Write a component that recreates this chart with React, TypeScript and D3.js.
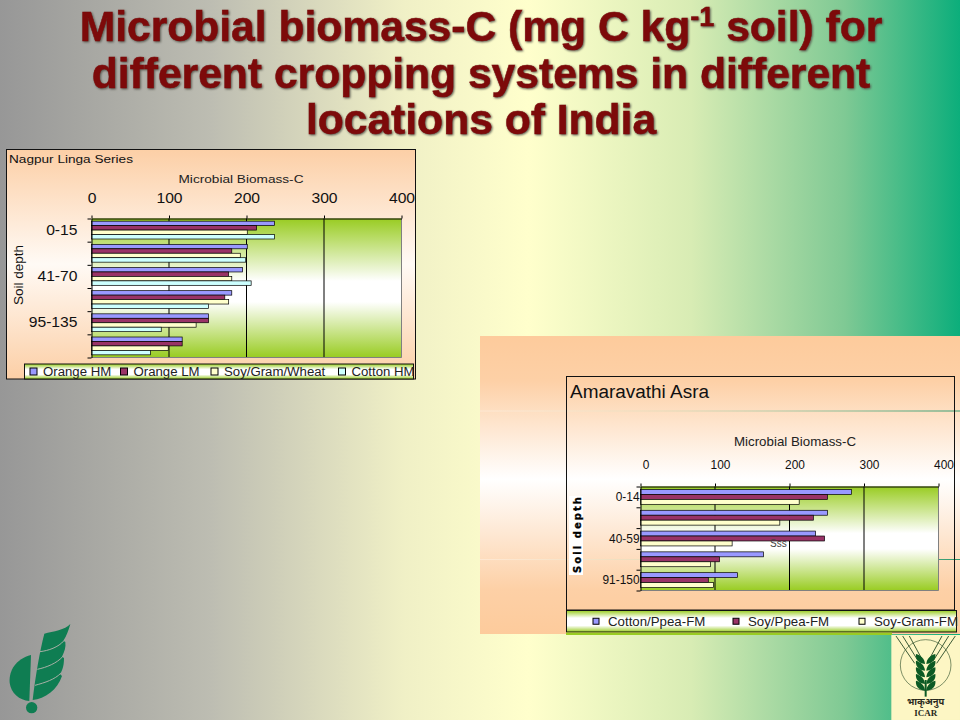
import React, { useEffect, useRef } from 'react';
import * as d3 from 'd3';

// Nagpur chart data, one array per series, top row first
const nagpurDepths = ['0-15', '', '41-70', '', '95-135', ''];
const orangeHM = [236, 201, 195, 181, 151, 117];
const orangeLM = [213, 181, 177, 172, 151, 117];
const soyGramWheat = [201, 192, 181, 177, 135, 99];
const cottonHM = [236, 199, 206, 151, 90, 76];
const nagpurNames = ['Orange HM', 'Orange LM', 'Soy/Gram/Wheat', 'Cotton HM'];

// Amaravathi chart data
const asraDepths = ['0-14', '', '40-59', '', '91-150'];
const cottonPpea = [283, 251, 235, 165, 130];
const soyPpea = [251, 232, 247, 106, 91];
const soyGram = [213, 187, 123, 94, 98];
const asraNames = ['Cotton/Ppea-FM', 'Soy/Ppea-FM', 'Soy-Gram-FM'];

const xTicks = [0, 100, 200, 300, 400];
const seriesColors = ['#9999ff', '#993366', '#ffffcc', '#ccffff'];

const SANS = '"Liberation Sans", Arial, sans-serif';

type ChartOpts = {
  title: string;
  depths: string[];
  names: string[];
  series: number[][];
  box: [number, number, number, number]; // x0, y0, x1, y1
  boxFill: string;
  plot: [number, number, number, number];
  legendBox: [number, number, number, number];
  legendX: number[];
  tickFont: number;
  tickStretch: number;
  tickPad: number;
  tickDx: number;
  depthPad: number;
  titleFont: number;
  titleW: number;
  titleY: number;
  titleX: number;
  axisTitleX: number;
  axisTitleY: number;
  axisTitleFont: number;
  axisTitleW: number;
  legendFont: number;
  legendStretch: number;
  markerSize: number;
};

// text in these charts was resized with the picture, so stretch it to match
function stretch(sel: any, k: number) {
  sel.each(function (this: SVGTextElement) {
    if (!this.textContent) return;
    const len = this.getComputedTextLength();
    d3.select(this).attr('textLength', len * k).attr('lengthAdjust', 'spacingAndGlyphs');
  });
}

function drawChart(root: any, o: ChartOpts) {
  const [px0, py0, px1, py1] = o.plot;
  const x = d3.scaleLinear().domain([0, 400]).range([px0, px1]);
  const rows = d3.range(o.depths.length);
  const y = d3.scaleBand<number>().domain(rows).range([py0, py1]);
  const yEdge = d3.scaleLinear().domain([0, rows.length]).range([py0, py1]);
  const inner = d3.scaleBand<number>()
    .domain(d3.range(o.series.length))
    .range([0, y.bandwidth()])
    .paddingOuter(0.6);

  const g = root.append('g');

  // chart frame
  g.append('rect')
    .attr('x', o.box[0]).attr('y', o.box[1])
    .attr('width', o.box[2] - o.box[0]).attr('height', o.box[3] - o.box[1])
    .attr('fill', o.boxFill)
    .attr('stroke', '#111');

  // plot area
  g.append('rect')
    .attr('x', px0).attr('y', py0)
    .attr('width', px1 - px0).attr('height', py1 - py0)
    .attr('fill', 'url(#plotGreen)');

  // gridlines
  g.append('g').selectAll('line')
    .data(xTicks.slice(1, -1))
    .join('line')
    .attr('x1', (d: number) => x(d)).attr('x2', (d: number) => x(d))
    .attr('y1', py0).attr('y2', py1)
    .attr('stroke', '#000');
  g.append('line')
    .attr('x1', px1).attr('x2', px1).attr('y1', py0).attr('y2', py1)
    .attr('stroke', '#808080');
  g.append('line')
    .attr('x1', px0).attr('x2', px1).attr('y1', py1).attr('y2', py1)
    .attr('stroke', '#808080');

  // bars
  o.series.forEach((vals, s) => {
    g.append('g').selectAll('rect')
      .data(vals)
      .join('rect')
      .attr('x', px0)
      .attr('y', (_: number, i: number) => y(i)! + inner(s)!)
      .attr('width', (d: number) => x(d) - px0)
      .attr('height', inner.bandwidth())
      .attr('fill', seriesColors[s])
      .attr('stroke', '#000')
      .attr('stroke-width', 0.7);
  });

  // top axis
  const top = g.append('g')
    .attr('transform', `translate(0,${py0})`)
    .call(d3.axisTop(x).tickValues(xTicks).tickSize(3).tickPadding(o.tickPad).tickSizeOuter(0));
  top.selectAll('text')
    .attr('dx', o.tickDx)
    .attr('font-size', o.tickFont)
    .attr('font-family', SANS)
    .attr('fill', '#111')
    .call(stretch, o.tickStretch);

  // left axis, ticks sit between the depth rows
  const left = g.append('g')
    .attr('transform', `translate(${px0},0)`)
    .call(d3.axisLeft(yEdge).tickValues(d3.range(rows.length + 1)).tickFormat(() => '').tickSize(4).tickSizeOuter(0));
  left.select('.domain').attr('stroke', '#000');

  const labels = g.append('g')
    .attr('transform', `translate(${px0},0)`)
    .call(d3.axisLeft(y).tickFormat((i: number) => o.depths[i]).tickSize(0).tickPadding(o.depthPad));
  labels.select('.domain').remove();
  labels.selectAll('text')
    .attr('font-size', o.tickFont)
    .attr('font-family', SANS)
    .attr('fill', '#111')
    .call(stretch, o.tickStretch);

  // titles
  g.append('text')
    .attr('x', o.titleX).attr('y', o.titleY)
    .attr('font-family', SANS).attr('font-size', o.titleFont)
    .attr('textLength', o.titleW).attr('lengthAdjust', 'spacingAndGlyphs')
    .attr('fill', '#111')
    .text(o.title);
  g.append('text')
    .attr('x', o.axisTitleX).attr('y', o.axisTitleY)
    .attr('text-anchor', 'middle')
    .attr('font-family', SANS).attr('font-size', o.axisTitleFont)
    .attr('textLength', o.axisTitleW).attr('lengthAdjust', 'spacingAndGlyphs')
    .attr('fill', '#222')
    .text('Microbial Biomass-C');

  // legend
  const [lx0, ly0, lx1, ly1] = o.legendBox;
  g.append('rect')
    .attr('x', lx0).attr('y', ly0)
    .attr('width', lx1 - lx0).attr('height', ly1 - ly0)
    .attr('fill', 'url(#legendGreen)')
    .attr('stroke', '#111');
  const ly = (ly0 + ly1) / 2;
  const items = g.append('g').selectAll('g')
    .data(o.names)
    .join('g')
    .attr('transform', (_: string, i: number) => `translate(${o.legendX[i]},${ly})`);
  items.append('rect')
    .attr('x', 0).attr('y', -o.markerSize / 2)
    .attr('width', o.markerSize).attr('height', o.markerSize)
    .attr('fill', (_: string, i: number) => seriesColors[i])
    .attr('stroke', '#000');
  items.append('text')
    .attr('x', o.markerSize + (o.markerSize > 6 ? 6 : 9))
    .attr('dy', '0.36em')
    .attr('font-family', SANS).attr('font-size', o.legendFont)
    .attr('fill', '#222')
    .text((d: string) => d)
    .call(stretch, o.legendStretch);
}

// logo at bottom left, drawn in its own 90x110 box scaled 3x
const DbtLogo = () => (
  <g transform="translate(0,610) scale(0.3333)" fill="#0f7d52">
    <path d="M93 135C48 146 26 182 29 218C33 250 58 270 88 273Z" />
    <path d="M211 42C195 60 160 64 133 71C120 120 106 200 98 270C135 266 172 240 186 198L180 192C190 178 192 160 192 144L186 140C194 124 198 112 196 96L190 92C200 78 206 60 211 42Z" />
    <circle cx="95" cy="293" r="17" />
    <g fill="none" stroke="#a9b0a6" strokeWidth="3">
      <path d="M120 125C145 122 175 112 192 92" />
      <path d="M112 178C140 172 170 160 188 140" />
      <path d="M105 226C135 218 165 208 182 190" />
    </g>
  </g>
);

// wheat ear leaves for the ICAR mark
const earRows = [78, 98, 118, 138, 158];

const IcarLogo = () => (
  <g transform="translate(880,630) scale(0.3333)">
    <rect x={34} y={15} width={206} height={255} fill="#fdf6c4" />
    <circle cx={137} cy={105} r={76} fill="none" stroke="#3c5a35" strokeWidth={2} />
    <g stroke="#3c5a35" strokeWidth={3}>
      <line x1={48} y1={18} x2={104} y2={100} />
      <line x1={68} y1={18} x2={114} y2={92} />
      <line x1={88} y1={18} x2={124} y2={84} />
      <line x1={226} y1={18} x2={170} y2={100} />
      <line x1={206} y1={18} x2={160} y2={92} />
      <line x1={186} y1={18} x2={150} y2={84} />
    </g>
    <g fill="#0c5a24">
      {earRows.map(r => (
        <g key={r}>
          <path d={`M135 ${r + 24}C112 ${r + 22} 106 ${r + 6} 108 ${r - 6}C122 ${r - 2} 134 ${r + 8} 135 ${r + 24}Z`} />
          <path d={`M139 ${r + 24}C162 ${r + 22} 168 ${r + 6} 166 ${r - 6}C152 ${r - 2} 140 ${r + 8} 139 ${r + 24}Z`} />
        </g>
      ))}
      <rect x={134} y={150} width={6} height={50} />
    </g>
    <text x={137} y={226} textAnchor="middle" fontSize={28} fontWeight="bold" fontFamily='"Noto Sans", sans-serif' fill="#2a2a20">भाकृअनुप</text>
    <text x={137} y={257} textAnchor="middle" fontSize={27} fontWeight="bold" fontFamily='"Liberation Serif", serif' fill="#2a2a20">ICAR</text>
  </g>
);

const titleStyle: React.CSSProperties = { filter: 'drop-shadow(1.5px 1.5px 0.8px #55554c)' };

export default function App() {
  const ref = useRef<SVGGElement | null>(null);

  useEffect(() => {
    if (!ref.current) return;
    const root = d3.select(ref.current);
    root.selectAll('*').remove();

    drawChart(root, {
      title: 'Nagpur Linga Series',
      depths: nagpurDepths,
      names: nagpurNames,
      series: [orangeHM, orangeLM, soyGramWheat, cottonHM],
      box: [6.5, 149.5, 415.5, 379],
      boxFill: 'url(#peach)',
      plot: [91.5, 218.5, 401.5, 357.5],
      legendBox: [24.5, 364, 413.5, 379],
      legendX: [30, 120.5, 211, 338.5],
      tickFont: 14.5,
      tickStretch: 1.08,
      tickPad: 13,
      tickDx: 0,
      depthPad: 14,
      titleFont: 11,
      titleW: 124,
      titleY: 163,
      titleX: 9,
      axisTitleX: 241,
      axisTitleY: 183,
      axisTitleFont: 11,
      axisTitleW: 125,
      legendFont: 12,
      legendStretch: 1.1,
      markerSize: 7,
    });

    drawChart(root, {
      title: 'Amaravathi Asra',
      depths: asraDepths,
      names: asraNames,
      series: [cottonPpea, soyPpea, soyGram],
      box: [566.5, 376.5, 954.5, 610],
      boxFill: 'none',
      plot: [640.5, 486.5, 938.5, 590.5],
      legendBox: [566.5, 610.5, 956.5, 632],
      legendX: [593, 733, 859],
      tickFont: 13.5,
      tickStretch: 0.88,
      tickPad: 15,
      tickDx: 5,
      depthPad: 1,
      titleFont: 18,
      titleW: 139,
      titleY: 398,
      titleX: 570,
      axisTitleX: 795,
      axisTitleY: 446,
      axisTitleFont: 13,
      axisTitleW: 122,
      legendFont: 13,
      legendStretch: 1.02,
      markerSize: 6,
    });

    // axis names
    root.append('text')
      .attr('transform', 'translate(23,275) rotate(-90)')
      .attr('text-anchor', 'middle')
      .attr('font-family', SANS).attr('font-size', 13.5)
      .attr('textLength', 60).attr('lengthAdjust', 'spacingAndGlyphs')
      .attr('fill', '#111')
      .text('Soil depth');

    root.append('rect')
      .attr('x', 569).attr('y', 496).attr('width', 14).attr('height', 79).attr('fill', '#fff');
    root.append('text')
      .attr('transform', 'translate(581,535) rotate(-90)')
      .attr('text-anchor', 'middle')
      .attr('font-family', '"DejaVu Sans", sans-serif').attr('font-size', 10).attr('font-weight', 'bold')
      .attr('textLength', 76).attr('lengthAdjust', 'spacing')
      .attr('stroke', '#000').attr('stroke-width', 0.3)
      .attr('fill', '#000')
      .text('Soil depth');

    root.append('text')
      .attr('x', 770).attr('y', 547)
      .attr('font-family', SANS).attr('font-size', 10)
      .attr('fill', '#444')
      .text('Sss');
  }, []);

  return (
    <svg width={960} height={720} viewBox="0 0 960 720" style={{ position: 'fixed', left: 0, top: 0 }}>
      <defs>
        <linearGradient id="slideBg" x1="0" x2="1" y1="0" y2="0">
          <stop offset="0" stopColor="#979797" />
          <stop offset="0.22" stopColor="#bdbdb2" />
          <stop offset="0.42" stopColor="#f0f0c6" />
          <stop offset="0.55" stopColor="#ffffcc" />
          <stop offset="0.72" stopColor="#d8ecb4" />
          <stop offset="0.88" stopColor="#7fc994" />
          <stop offset="1" stopColor="#0cae7b" />
        </linearGradient>
        <linearGradient id="peach" x1="0" x2="0" y1="0" y2="1">
          <stop offset="0" stopColor="#fccfa6" />
          <stop offset="0.5" stopColor="#fffaf5" />
          <stop offset="1" stopColor="#fccfa6" />
        </linearGradient>
        <linearGradient id="panelPeach" x1="0" x2="0" y1="0" y2="1">
          <stop offset="0" stopColor="#fdcb9c" />
          <stop offset="0.15" stopColor="#fdd0a6" />
          <stop offset="0.48" stopColor="#ffffff" />
          <stop offset="0.85" stopColor="#fdd0a6" />
          <stop offset="1" stopColor="#fdcb9c" />
        </linearGradient>
        <linearGradient id="plotGreen" x1="0" x2="0" y1="0" y2="1">
          <stop offset="0" stopColor="#99cc22" />
          <stop offset="0.45" stopColor="#ffffff" />
          <stop offset="0.6" stopColor="#ffffff" />
          <stop offset="1" stopColor="#99cc22" />
        </linearGradient>
        <linearGradient id="legendGreen" x1="0" x2="0" y1="0" y2="1">
          <stop offset="0" stopColor="#99cc22" />
          <stop offset="0.35" stopColor="#ffffff" />
          <stop offset="0.7" stopColor="#ffffff" />
          <stop offset="1" stopColor="#99cc22" />
        </linearGradient>
        <linearGradient id="ruleFade" x1="0" x2="1" y1="0" y2="0">
          <stop offset="0" stopColor="#ffffff" stopOpacity="0.3" />
          <stop offset="0.35" stopColor="#d8dcb8" stopOpacity="0.5" />
          <stop offset="1" stopColor="#2f9a70" />
        </linearGradient>
      </defs>

      <rect width={960} height={720} fill="url(#slideBg)" />

      <g
        fontFamily={SANS}
        fontWeight="bold"
        fontSize={42.6}
        fill="#7d0a0a"
        stroke="#7d0a0a"
        strokeWidth={0.5}
        textAnchor="middle"
        style={titleStyle}
      >
        <text x={481} y={41}>
          Microbial biomass-C (mg C kg<tspan fontSize={27} dy={-15}>-1</tspan>
          <tspan dy={15}> soil) for</tspan>
        </text>
        <text x={481} y={87.5}>different cropping systems in different</text>
        <text x={481} y={134}>locations of India</text>
      </g>

      {/* peach panel behind the right chart */}
      <rect x={480} y={336} width={480} height={298} fill="url(#panelPeach)" />
      <rect x={480} y={410.5} width={480} height={1} fill="url(#ruleFade)" />
      <rect x={480} y={559} width={480} height={1} fill="url(#ruleFade)" />

      <g ref={ref} />

      <rect x={566} y={632.5} width={326} height={2.5} fill="#99cc22" />

      <DbtLogo />
      <IcarLogo />
    </svg>
  );
}
